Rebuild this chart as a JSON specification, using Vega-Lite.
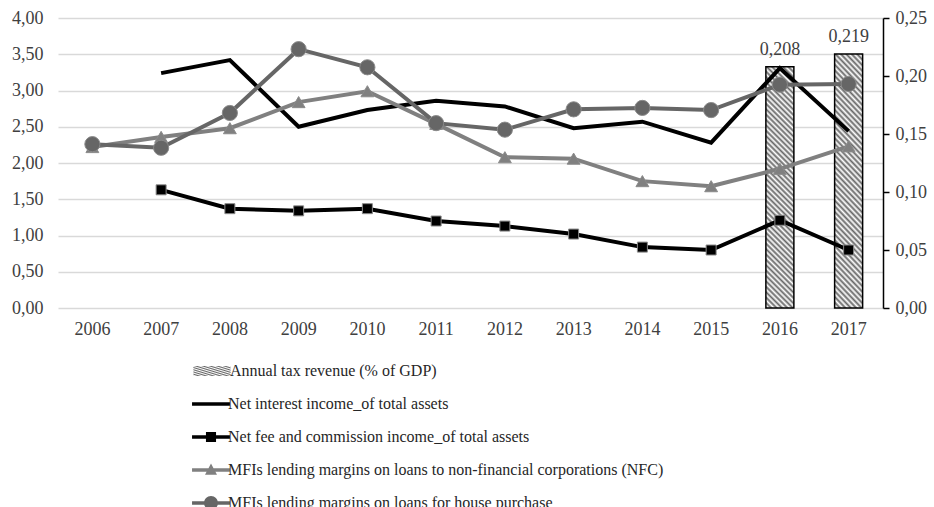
{
  "$schema": "https://vega.github.io/schema/vega-lite/v6.json",
  "width": 825,
  "height": 290,
  "autosize": {"type": "none"},
  "padding": {"left": 58, "top": 18, "right": 51, "bottom": 199},
  "background": "white",
  "config": {
    "view": {"stroke": null},
    "font": "Liberation Serif",
    "locale": {"number": {"decimal": ",", "thousands": ".", "grouping": [3], "currency": ["", " €"]}}
  },
  "data": {
    "values": [
      {"year": "2016", "series": "Annual tax revenue (% of GDP)", "value": 0.208},
      {"year": "2017", "series": "Annual tax revenue (% of GDP)", "value": 0.219},
      {"year": "2007", "series": "Net interest income_of total assets", "value": 3.24},
      {"year": "2008", "series": "Net interest income_of total assets", "value": 3.42},
      {"year": "2009", "series": "Net interest income_of total assets", "value": 2.50},
      {"year": "2010", "series": "Net interest income_of total assets", "value": 2.73},
      {"year": "2011", "series": "Net interest income_of total assets", "value": 2.86},
      {"year": "2012", "series": "Net interest income_of total assets", "value": 2.78},
      {"year": "2013", "series": "Net interest income_of total assets", "value": 2.48},
      {"year": "2014", "series": "Net interest income_of total assets", "value": 2.57},
      {"year": "2015", "series": "Net interest income_of total assets", "value": 2.28},
      {"year": "2016", "series": "Net interest income_of total assets", "value": 3.31},
      {"year": "2017", "series": "Net interest income_of total assets", "value": 2.44},
      {"year": "2007", "series": "Net fee and commission income_of total assets", "value": 1.63},
      {"year": "2008", "series": "Net fee and commission income_of total assets", "value": 1.37},
      {"year": "2009", "series": "Net fee and commission income_of total assets", "value": 1.34},
      {"year": "2010", "series": "Net fee and commission income_of total assets", "value": 1.37},
      {"year": "2011", "series": "Net fee and commission income_of total assets", "value": 1.20},
      {"year": "2012", "series": "Net fee and commission income_of total assets", "value": 1.13},
      {"year": "2013", "series": "Net fee and commission income_of total assets", "value": 1.02},
      {"year": "2014", "series": "Net fee and commission income_of total assets", "value": 0.84},
      {"year": "2015", "series": "Net fee and commission income_of total assets", "value": 0.80},
      {"year": "2016", "series": "Net fee and commission income_of total assets", "value": 1.21},
      {"year": "2017", "series": "Net fee and commission income_of total assets", "value": 0.80},
      {"year": "2006", "series": "MFIs lending margins on loans to non-financial corporations (NFC)", "value": 2.22},
      {"year": "2007", "series": "MFIs lending margins on loans to non-financial corporations (NFC)", "value": 2.36},
      {"year": "2008", "series": "MFIs lending margins on loans to non-financial corporations (NFC)", "value": 2.48},
      {"year": "2009", "series": "MFIs lending margins on loans to non-financial corporations (NFC)", "value": 2.84},
      {"year": "2010", "series": "MFIs lending margins on loans to non-financial corporations (NFC)", "value": 2.99},
      {"year": "2011", "series": "MFIs lending margins on loans to non-financial corporations (NFC)", "value": 2.54},
      {"year": "2012", "series": "MFIs lending margins on loans to non-financial corporations (NFC)", "value": 2.08},
      {"year": "2013", "series": "MFIs lending margins on loans to non-financial corporations (NFC)", "value": 2.06},
      {"year": "2014", "series": "MFIs lending margins on loans to non-financial corporations (NFC)", "value": 1.75},
      {"year": "2015", "series": "MFIs lending margins on loans to non-financial corporations (NFC)", "value": 1.68},
      {"year": "2016", "series": "MFIs lending margins on loans to non-financial corporations (NFC)", "value": 1.92},
      {"year": "2017", "series": "MFIs lending margins on loans to non-financial corporations (NFC)", "value": 2.23},
      {"year": "2006", "series": "MFIs lending margins on loans for house purchase", "value": 2.26},
      {"year": "2007", "series": "MFIs lending margins on loans for house purchase", "value": 2.21},
      {"year": "2008", "series": "MFIs lending margins on loans for house purchase", "value": 2.69},
      {"year": "2009", "series": "MFIs lending margins on loans for house purchase", "value": 3.57},
      {"year": "2010", "series": "MFIs lending margins on loans for house purchase", "value": 3.32},
      {"year": "2011", "series": "MFIs lending margins on loans for house purchase", "value": 2.55},
      {"year": "2012", "series": "MFIs lending margins on loans for house purchase", "value": 2.46},
      {"year": "2013", "series": "MFIs lending margins on loans for house purchase", "value": 2.74},
      {"year": "2014", "series": "MFIs lending margins on loans for house purchase", "value": 2.76},
      {"year": "2015", "series": "MFIs lending margins on loans for house purchase", "value": 2.73},
      {"year": "2016", "series": "MFIs lending margins on loans for house purchase", "value": 3.08},
      {"year": "2017", "series": "MFIs lending margins on loans for house purchase", "value": 3.09}
    ]
  },
  "encoding": {
    "x": {
      "field": "year",
      "type": "ordinal",
      "scale": {"domain": ["2006","2007","2008","2009","2010","2011","2012","2013","2014","2015","2016","2017"], "paddingInner": 0, "paddingOuter": 0},
      "axis": {"title": null, "labelAngle": 0, "ticks": false, "domain": false, "grid": false, "labelFontSize": 18, "labelColor": "#404040", "labelPadding": 12, "labelFont": "Liberation Serif"}
    }
  },
  "layer": [
    {
      "transform": [{"filter": "datum.series === 'Annual tax revenue (% of GDP)'"}],
      "encoding": {
        "y": {
          "field": "value",
          "type": "quantitative",
          "scale": {"domain": [0, 0.25], "nice": false},
          "axis": {"orient": "right", "title": null, "values": [0, 0.05, 0.1, 0.15, 0.2, 0.25], "format": ".2f", "grid": false, "domain": true, "domainColor": "#000000", "domainWidth": 1.5, "ticks": true, "tickColor": "#000000", "tickWidth": 1.5, "tickSize": 6, "labelPadding": 6, "labelFontSize": 18, "labelColor": "#404040", "labelFont": "Liberation Serif"}
        }
      },
      "layer": [
        {
          "mark": {
            "type": "bar", "size": 28, "stroke": "#000000", "strokeWidth": 1.5,
            "fill": {
              "gradient": "linear", "x1": 0, "y1": 1, "x2": 0.1273, "y2": -0.1,
              "stops": [
                {"offset": 0.00, "color": "#666666"}, {"offset": 0.01, "color": "#ffffff"},
                {"offset": 0.02, "color": "#666666"}, {"offset": 0.03, "color": "#ffffff"},
                {"offset": 0.04, "color": "#666666"}, {"offset": 0.05, "color": "#ffffff"},
                {"offset": 0.06, "color": "#666666"}, {"offset": 0.07, "color": "#ffffff"},
                {"offset": 0.08, "color": "#666666"}, {"offset": 0.09, "color": "#ffffff"},
                {"offset": 0.10, "color": "#666666"}, {"offset": 0.11, "color": "#ffffff"},
                {"offset": 0.12, "color": "#666666"}, {"offset": 0.13, "color": "#ffffff"},
                {"offset": 0.14, "color": "#666666"}, {"offset": 0.15, "color": "#ffffff"},
                {"offset": 0.16, "color": "#666666"}, {"offset": 0.17, "color": "#ffffff"},
                {"offset": 0.18, "color": "#666666"}, {"offset": 0.19, "color": "#ffffff"},
                {"offset": 0.20, "color": "#666666"}, {"offset": 0.21, "color": "#ffffff"},
                {"offset": 0.22, "color": "#666666"}, {"offset": 0.23, "color": "#ffffff"},
                {"offset": 0.24, "color": "#666666"}, {"offset": 0.25, "color": "#ffffff"},
                {"offset": 0.26, "color": "#666666"}, {"offset": 0.27, "color": "#ffffff"},
                {"offset": 0.28, "color": "#666666"}, {"offset": 0.29, "color": "#ffffff"},
                {"offset": 0.30, "color": "#666666"}, {"offset": 0.31, "color": "#ffffff"},
                {"offset": 0.32, "color": "#666666"}, {"offset": 0.33, "color": "#ffffff"},
                {"offset": 0.34, "color": "#666666"}, {"offset": 0.35, "color": "#ffffff"},
                {"offset": 0.36, "color": "#666666"}, {"offset": 0.37, "color": "#ffffff"},
                {"offset": 0.38, "color": "#666666"}, {"offset": 0.39, "color": "#ffffff"},
                {"offset": 0.40, "color": "#666666"}, {"offset": 0.41, "color": "#ffffff"},
                {"offset": 0.42, "color": "#666666"}, {"offset": 0.43, "color": "#ffffff"},
                {"offset": 0.44, "color": "#666666"}, {"offset": 0.45, "color": "#ffffff"},
                {"offset": 0.46, "color": "#666666"}, {"offset": 0.47, "color": "#ffffff"},
                {"offset": 0.48, "color": "#666666"}, {"offset": 0.49, "color": "#ffffff"},
                {"offset": 0.50, "color": "#666666"}, {"offset": 0.51, "color": "#ffffff"},
                {"offset": 0.52, "color": "#666666"}, {"offset": 0.53, "color": "#ffffff"},
                {"offset": 0.54, "color": "#666666"}, {"offset": 0.55, "color": "#ffffff"},
                {"offset": 0.56, "color": "#666666"}, {"offset": 0.57, "color": "#ffffff"},
                {"offset": 0.58, "color": "#666666"}, {"offset": 0.59, "color": "#ffffff"},
                {"offset": 0.60, "color": "#666666"}, {"offset": 0.61, "color": "#ffffff"},
                {"offset": 0.62, "color": "#666666"}, {"offset": 0.63, "color": "#ffffff"},
                {"offset": 0.64, "color": "#666666"}, {"offset": 0.65, "color": "#ffffff"},
                {"offset": 0.66, "color": "#666666"}, {"offset": 0.67, "color": "#ffffff"},
                {"offset": 0.68, "color": "#666666"}, {"offset": 0.69, "color": "#ffffff"},
                {"offset": 0.70, "color": "#666666"}, {"offset": 0.71, "color": "#ffffff"},
                {"offset": 0.72, "color": "#666666"}, {"offset": 0.73, "color": "#ffffff"},
                {"offset": 0.74, "color": "#666666"}, {"offset": 0.75, "color": "#ffffff"},
                {"offset": 0.76, "color": "#666666"}, {"offset": 0.77, "color": "#ffffff"},
                {"offset": 0.78, "color": "#666666"}, {"offset": 0.79, "color": "#ffffff"},
                {"offset": 0.80, "color": "#666666"}, {"offset": 0.81, "color": "#ffffff"},
                {"offset": 0.82, "color": "#666666"}, {"offset": 0.83, "color": "#ffffff"},
                {"offset": 0.84, "color": "#666666"}, {"offset": 0.85, "color": "#ffffff"},
                {"offset": 0.86, "color": "#666666"}, {"offset": 0.87, "color": "#ffffff"},
                {"offset": 0.88, "color": "#666666"}, {"offset": 0.89, "color": "#ffffff"},
                {"offset": 0.90, "color": "#666666"}, {"offset": 0.91, "color": "#ffffff"},
                {"offset": 0.92, "color": "#666666"}, {"offset": 0.93, "color": "#ffffff"},
                {"offset": 0.94, "color": "#666666"}, {"offset": 0.95, "color": "#ffffff"},
                {"offset": 0.96, "color": "#666666"}, {"offset": 0.97, "color": "#ffffff"},
                {"offset": 0.98, "color": "#666666"}, {"offset": 0.99, "color": "#ffffff"},
                {"offset": 1.00, "color": "#666666"}
              ]
            }
          },
          "encoding": {
            "opacity": {
              "field": "series",
              "type": "ordinal",
              "scale": {"domain": ["Annual tax revenue (% of GDP)"], "range": [1, 1]},
              "legend": {
                "title": null,
                "orient": "none",
                "legendX": 141,
                "legendY": 340,
                "direction": "vertical",
                "padding": 0,
                "symbolSize": 576,
                "symbolType": "M-1.55,-0.42H1.55V0.42H-1.55Z",
                "symbolFillColor": "#c0c0c0",
                "symbolStrokeColor": "#000000",
                "symbolStrokeWidth": 1.5,
                "labelFontSize": 16,
                "labelFont": "Liberation Serif",
                "labelColor": "#262626",
                "labelLimit": 800,
                "labelOffset": 5,
                "encode": {"symbols": {"update": {"stroke": {"value": "#000000"}, "strokeWidth": {"value": 1.5}}}}
              }
            }
          }
        },
        {
          "mark": {"type": "text", "baseline": "bottom", "dy": -8, "fontSize": 18, "font": "Liberation Serif", "color": "#404040"},
          "encoding": {
            "text": {"field": "value", "type": "quantitative", "format": ".3f"}
          }
        }
      ]
    },
    {
      "transform": [{"filter": "datum.series !== 'Annual tax revenue (% of GDP)'"}],
      "encoding": {
        "y": {
          "field": "value",
          "type": "quantitative",
          "scale": {"domain": [0, 4], "nice": false},
          "axis": {"orient": "left", "title": null, "values": [0, 0.5, 1, 1.5, 2, 2.5, 3, 3.5, 4], "format": ".2f", "grid": true, "gridColor": "#d9d9d9", "gridWidth": 1.5, "domain": false, "ticks": false, "labelPadding": 15, "labelFontSize": 18, "labelColor": "#404040", "labelFont": "Liberation Serif"}
        },
        "color": {
          "field": "series",
          "type": "nominal",
          "scale": {
            "domain": ["Net interest income_of total assets", "Net fee and commission income_of total assets", "MFIs lending margins on loans to non-financial corporations (NFC)", "MFIs lending margins on loans for house purchase"],
            "range": ["#000000", "#000000", "#808080", "#666666"]
          },
          "legend": {
            "title": null,
            "orient": "none",
            "legendX": 141,
            "legendY": 374,
            "direction": "vertical",
            "padding": 0,
            "symbolSize": 576,
            "labelFontSize": 16,
            "labelFont": "Liberation Serif",
            "labelColor": "#262626",
            "labelLimit": 800,
            "labelOffset": 5,
            "rowPadding": 13,
            "encode": {
              "symbols": {
                "update": {
                  "shape": {"signal": "['M-1.58,-0.15H1.58V0.15H-1.58Z', 'M-1.58,-0.15H1.58V0.15H-1.58Z M-0.42,-0.42H0.42V0.42H-0.42Z', 'M-1.58,-0.15H1.58V0.15H-1.58Z M0,-0.55L0.5,0.4H-0.5Z', 'M-1.58,-0.15H1.58V0.15H-1.58Z M-0.58,0A0.58,0.58 0 1,1 0.58,0A0.58,0.58 0 1,1 -0.58,0Z'][indexof(['Net interest income_of total assets', 'Net fee and commission income_of total assets', 'MFIs lending margins on loans to non-financial corporations (NFC)', 'MFIs lending margins on loans for house purchase'], datum.value)]"},
                  "strokeWidth": {"value": 0},
                  "opacity": {"value": 1}
                }
              }
            }
          }
        }
      },
      "layer": [
        {
          "mark": {"type": "line", "strokeWidth": 4},
          "encoding": {
            "detail": {"field": "series"}
          }
        },
        {
          "transform": [{"filter": "datum.series !== 'Net interest income_of total assets'"}],
          "mark": {"type": "point", "filled": true, "opacity": 1, "stroke": "#8a8a8a", "strokeWidth": 1},
          "encoding": {
            "shape": {
              "field": "series",
              "type": "nominal",
              "scale": {"domain": ["Net fee and commission income_of total assets", "MFIs lending margins on loans to non-financial corporations (NFC)", "MFIs lending margins on loans for house purchase"], "range": ["square", "triangle-up", "circle"]},
              "legend": null
            },
            "size": {
              "field": "series",
              "type": "nominal",
              "scale": {"domain": ["Net fee and commission income_of total assets", "MFIs lending margins on loans to non-financial corporations (NFC)", "MFIs lending margins on loans for house purchase"], "range": [100, 230, 260]},
              "legend": null
            }
          }
        }
      ]
    }
  ],
  "resolve": {"scale": {"y": "independent"}}
}
